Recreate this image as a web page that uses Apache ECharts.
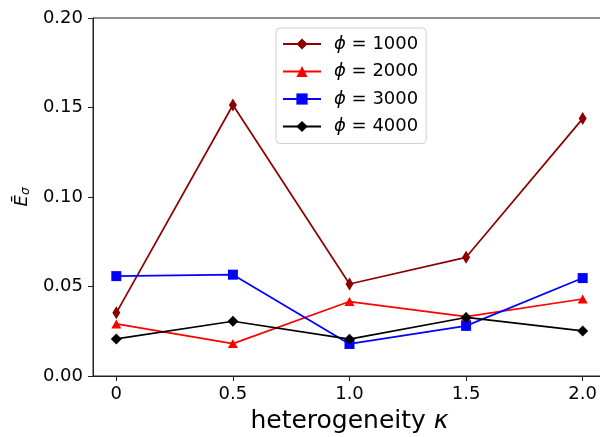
<!DOCTYPE html>
<html><head><meta charset="utf-8">
<script src="https://cdn.jsdelivr.net/npm/echarts@6/dist/echarts.min.js"></script>
<style>html,body{margin:0;padding:0;background:#fff}#c{width:600px;height:437px}</style>
</head><body><div id="c"></div>
<script>
const kappa = [0, 0.5, 1.0, 1.5, 2.0];
const phi1000 = [0.0353, 0.1514, 0.0514, 0.0663, 0.1438];
const phi2000 = [0.0291, 0.0181, 0.0416, 0.0332, 0.0430];
const phi3000 = [0.0558, 0.0566, 0.0179, 0.0280, 0.0547];
const phi4000 = [0.0207, 0.0306, 0.0206, 0.0327, 0.0252];
const xTicks = [0, 0.5, 1.0, 1.5, 2.0];
const xTickLabels = ['0', '0.5', '1.0', '1.5', '2.0'];
const seriesNames = ['1000', '2000', '3000', '4000'];

const FONT = 'DejaVu Sans';
const chart = echarts.init(document.getElementById('c'), null, {renderer: 'canvas'});
const pair = arr => kappa.map((k, i) => [k, arr[i]]);
const mk = (name, data, color, symbol, size) => ({
  name: name, type: 'line', data: pair(data),
  symbol: symbol, symbolSize: size, showSymbol: true,
  lineStyle: {color: color, width: 1.7},
  itemStyle: {color: color, borderColor: color, borderWidth: 0},
  emphasis: {disabled: true}, animation: false
});
chart.setOption({
  animation: false,
  grid: {left: 93, top: 18, right: -6, bottom: 61, show: true, borderColor: '#222', borderWidth: 1,
    backgroundColor: 'transparent', containLabel: false, outerBoundsMode: 'none'},
  legend: {
    orient: 'vertical', left: 276, top: 28,
    padding: [7, 8, 8, 6], itemGap: 9.5, itemWidth: 38, itemHeight: 14,
    backgroundColor: '#fff', borderColor: '#d0d0d0', borderWidth: 1, borderRadius: 4,
    data: seriesNames,
    formatter: n => '{i|ϕ} = ' + n,
    textStyle: {fontFamily: FONT, fontSize: 18, color: '#000', padding: [0, 0, 0, 8],
      rich: {i: {fontFamily: FONT, fontSize: 18, fontStyle: 'italic', color: '#000'}}}
  },
  xAxis: {
    type: 'value', min: -0.1, max: 2.1,
    name: '{t|heterogeneity }{k|κ}', nameLocation: 'middle', nameGap: 33,
    nameTextStyle: {fontFamily: FONT, fontSize: 25, color: '#000',
      rich: {t: {fontFamily: FONT, fontSize: 25, color: '#000'}, k: {fontFamily: FONT, fontSize: 25, fontStyle: 'italic', color: '#000'}}},
    splitLine: {show: false},
    axisLine: {show: true, onZero: false, lineStyle: {color: '#222', width: 1}},
    axisTick: {show: true, length: 5, lineStyle: {color: '#222'}, customValues: xTicks},
    axisLabel: {fontFamily: FONT, fontSize: 18, color: '#000', margin: 9, customValues: xTicks,
      formatter: v => xTickLabels[xTicks.indexOf(v)] ?? ''}
  },
  yAxis: {
    type: 'value', min: 0, max: 0.2, interval: 0.05,
    name: '{e|Ē}{s|σ}', nameLocation: 'middle', nameGap: 58, nameRotate: 90,
    nameTextStyle: {fontFamily: FONT, fontSize: 17, color: '#000',
      rich: {e: {fontFamily: FONT, fontSize: 18, fontStyle: 'italic', color: '#000', lineHeight: 20},
             s: {fontFamily: FONT, fontSize: 12, fontStyle: 'italic', color: '#000', lineHeight: 10, verticalAlign: 'bottom'}}},
    splitLine: {show: false},
    axisLine: {show: true, onZero: false, lineStyle: {color: '#222', width: 1}},
    axisTick: {show: true, length: 5, lineStyle: {color: '#222'}},
    axisLabel: {fontFamily: FONT, fontSize: 18, color: '#000', margin: 10, formatter: v => v.toFixed(2)}
  },
  series: [
    mk('1000', phi1000, '#8b0000', 'diamond', [8, 13]),
    mk('2000', phi2000, '#ff0000', 'triangle', [10, 9]),
    mk('3000', phi3000, '#0000ff', 'rect', [10, 10]),
    mk('4000', phi4000, '#000000', 'diamond', [11, 11])
  ]
});
</script></body></html>
